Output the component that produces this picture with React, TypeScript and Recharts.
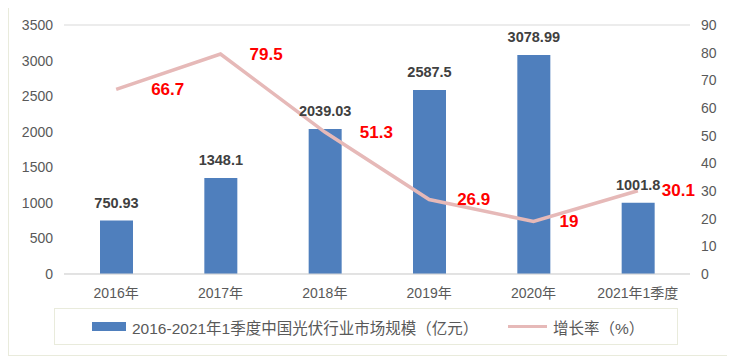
import { ComposedChart, Bar, Line, XAxis, YAxis, CartesianGrid, LabelList } from "recharts";

const categories = ["2016年", "2017年", "2018年", "2019年", "2020年", "2021年1季度"];
const marketSize = [750.93, 1348.1, 2039.03, 2587.5, 3078.99, 1001.8]; // 亿元
const growthRate = [66.7, 79.5, 51.3, 26.9, 19, 30.1]; // %
const leftTicks = [0, 500, 1000, 1500, 2000, 2500, 3000, 3500];
const rightTicks = [0, 10, 20, 30, 40, 50, 60, 70, 80, 90];

const barName = "2016-2021年1季度中国光伏行业市场规模（亿元）";
const lineName = "增长率（%）";

// how far right of each point the red label sits (px)
const rateLabelDx = [35, 29, 35, 28, 26, 24];

const FONT = '"Liberation Sans", "Noto Sans CJK SC", sans-serif';
const BLUE = "#4F7FBD";
const PINK = "#E6B9B8";
const GREY = "#595959";

const data = categories.map((name, i) => ({
  name,
  size: marketSize[i],
  rate: growthRate[i],
}));

// eslint-disable-next-line @typescript-eslint/no-explicit-any
function RateLabel(props: any) {
  const { x, y, value, index } = props;
  return (
    <text
      x={x + (rateLabelDx[index] ?? 28)}
      y={y}
      dominantBaseline="central"
      fill="#FF0000"
      fontSize={17}
      fontWeight="bold"
      fontFamily={FONT}
    >
      {value}
    </text>
  );
}

export default function App() {
  return (
    <div
      style={{
        position: "relative",
        width: 722,
        height: 351,
        marginTop: -3,
        border: "1px solid #E9EBDC",
        boxSizing: "border-box",
        background: "#fff",
        fontFamily: FONT,
      }}
    >
      <ComposedChart
        width={720}
        height={349}
        data={data}
        margin={{ top: 19, right: 0, bottom: 0, left: 0 }}
      >
        <CartesianGrid vertical={false} stroke="#D9D9D9" />
        <XAxis
          dataKey="name"
          height={81}
          axisLine={{ stroke: "#D9D9D9" }}
          tickLine={false}
          tickMargin={8}
          tick={{ fill: GREY, fontSize: 14, fontFamily: FONT }}
        />
        <YAxis
          yAxisId="left"
          width={55}
          domain={[0, 3500]}
          ticks={leftTicks}
          axisLine={false}
          tickLine={false}
          tickMargin={5}
          tick={{ fill: GREY, fontSize: 14, fontFamily: FONT }}
        />
        <YAxis
          yAxisId="right"
          orientation="right"
          width={39}
          domain={[0, 90]}
          ticks={rightTicks}
          axisLine={false}
          tickLine={false}
          tickMargin={5}
          tick={{ fill: GREY, fontSize: 14, fontFamily: FONT, textAnchor: "start" }}
        />
        <Bar yAxisId="left" dataKey="size" name={barName} fill={BLUE} barSize={33} isAnimationActive={false}>
          <LabelList
            dataKey="size"
            position="top"
            offset={13}
            fill="#404040"
            fontSize={14.5}
            fontWeight="bold"
            fontFamily={FONT}
          />
        </Bar>
        <Line
          yAxisId="right"
          dataKey="rate"
          name={lineName}
          stroke={PINK}
          strokeWidth={3.5}
          dot={false}
          activeDot={false}
          isAnimationActive={false}
        >
          <LabelList dataKey="rate" content={<RateLabel />} />
        </Line>
      </ComposedChart>
      <div
        style={{
          position: "absolute",
          left: 45,
          top: 302,
          width: 624,
          height: 37,
          border: "1px solid #E9EBDC",
          boxSizing: "border-box",
          fontSize: 15.5,
          color: GREY,
        }}
      >
        <span
          style={{ position: "absolute", left: 37, top: 13, width: 34, height: 9, background: BLUE }}
        />
        <span style={{ position: "absolute", left: 77, top: 7, whiteSpace: "nowrap" }}>{barName}</span>
        <span
          style={{ position: "absolute", left: 453, top: 16, width: 39, height: 3, background: PINK }}
        />
        <span style={{ position: "absolute", left: 498, top: 7, whiteSpace: "nowrap" }}>{lineName}</span>
      </div>
    </div>
  );
}
